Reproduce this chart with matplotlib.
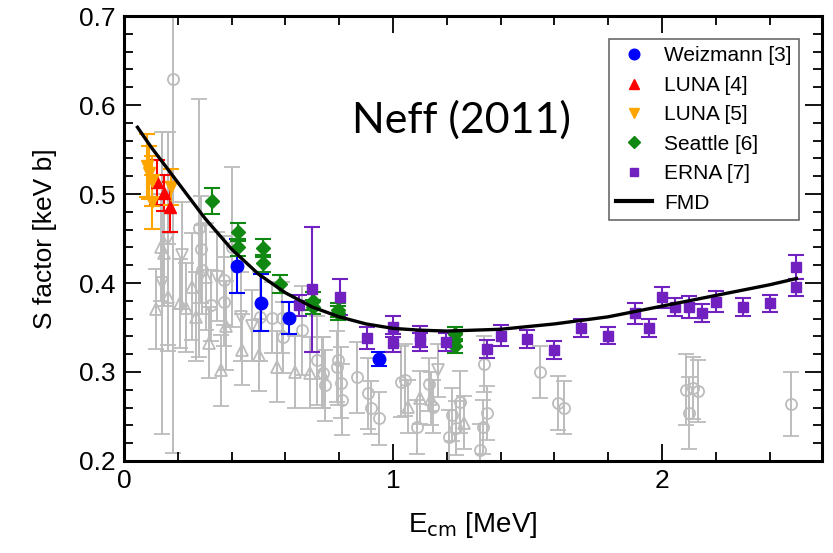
import matplotlib
matplotlib.use("Agg")
import matplotlib.pyplot as plt
from matplotlib.lines import Line2D
from matplotlib.ticker import MultipleLocator

# FMD curve
fmd_e = [0.05, 0.1, 0.2, 0.3, 0.4, 0.5, 0.6, 0.7, 0.8, 0.9, 1.0, 1.1, 1.2,
         1.3, 1.4, 1.6, 1.8, 2.0, 2.2, 2.4, 2.5]
fmd_s = [0.575, 0.553, 0.513, 0.473, 0.438, 0.410, 0.389, 0.373, 0.362, 0.354,
         0.349, 0.347, 0.346, 0.347, 0.348, 0.354, 0.362, 0.374, 0.386, 0.398, 0.405]

# Weizmann [3]
wz_e = [0.42, 0.51, 0.613, 0.948]
wz_s = [0.419, 0.378, 0.361, 0.315]
wz_err = [0.03, 0.032, 0.018, 0.008]

# LUNA [4]
l4_e = [0.123, 0.149, 0.171]
l4_s = [0.513, 0.501, 0.485]
l4_err = [0.025, 0.02, 0.028]

# LUNA [5]
l5_e = [0.085, 0.093, 0.105, 0.104, 0.174]
l5_s = [0.532, 0.524, 0.515, 0.491, 0.508]
l5_err = [0.035, 0.03, 0.028, 0.03, 0.02]

# Seattle [6]
se_e = [0.328, 0.425, 0.425, 0.518, 0.518, 0.58, 0.703, 0.703, 0.796, 0.796,
        1.23, 1.23, 1.23]
se_s = [0.492, 0.457, 0.440, 0.439, 0.422, 0.399, 0.380, 0.373, 0.370, 0.366,
        0.343, 0.336, 0.329]
se_err = [0.015, 0.01, 0.01, 0.01, 0.01, 0.01, 0.01, 0.008, 0.008, 0.008,
          0.008, 0.008, 0.008]

# ERNA [7]
er_e = [0.65, 0.698, 0.803, 0.903, 1.0, 1.0, 1.10, 1.10, 1.197, 1.35, 1.40,
        1.50, 1.60, 1.70, 1.80, 1.90, 1.95, 2.0, 2.05, 2.10, 2.15, 2.20, 2.30,
        2.40, 2.50, 2.50]
er_s = [0.375, 0.393, 0.384, 0.338, 0.351, 0.333, 0.340, 0.334, 0.334, 0.326,
        0.341, 0.337, 0.325, 0.349, 0.341, 0.366, 0.349, 0.384, 0.373, 0.373,
        0.366, 0.379, 0.373, 0.377, 0.418, 0.395]
er_err = [0.012, 0.07, 0.02, 0.012, 0.012, 0.01, 0.012, 0.01, 0.01, 0.01,
          0.012, 0.01, 0.01, 0.01, 0.01, 0.012, 0.01, 0.012, 0.01, 0.012,
          0.01, 0.012, 0.01, 0.01, 0.013, 0.01]

# older data (grey, open symbols)
gc_e = [0.182, 0.28, 0.286, 0.29, 0.323, 0.372, 0.372, 0.40, 0.505, 0.55,
        0.587, 0.59, 0.662, 0.717, 0.74, 0.747, 0.79, 0.795, 0.806, 0.81,
        0.866, 0.907, 0.92, 0.948, 1.03, 1.045, 1.09, 1.135, 1.15, 1.21,
        1.22, 1.235, 1.25, 1.34, 1.35, 1.335, 1.325, 1.546, 1.615, 1.635,
        2.09, 2.10, 2.115, 2.135, 2.48]
gc_s = [0.629, 0.462, 0.438, 0.415, 0.375, 0.403, 0.379, 0.44, 0.362, 0.361,
        0.361, 0.339, 0.347, 0.313, 0.299, 0.285, 0.306, 0.313, 0.288, 0.269,
        0.294, 0.276, 0.26, 0.248, 0.289, 0.291, 0.238, 0.286, 0.261, 0.227,
        0.252, 0.237, 0.266, 0.309, 0.254, 0.238, 0.212, 0.30, 0.265, 0.26,
        0.28, 0.254, 0.282, 0.279, 0.264]
gc_err = [0.42, 0.145, 0.06, 0.05, 0.04, 0.05, 0.05, 0.09, 0.05, 0.04,
          0.04, 0.04, 0.05, 0.05, 0.04, 0.04, 0.04, 0.05, 0.04, 0.04,
          0.04, 0.04, 0.03, 0.03, 0.04, 0.04, 0.03, 0.03, 0.03, 0.03,
          0.03, 0.03, 0.035, 0.031, 0.03, 0.03, 0.03, 0.029, 0.03, 0.03,
          0.04, 0.04, 0.035, 0.035, 0.036]

gu_e = [0.12, 0.137, 0.15, 0.163, 0.207, 0.23, 0.252, 0.267, 0.305, 0.315,
        0.36, 0.38, 0.44, 0.50, 0.57, 0.636, 0.69, 0.735, 1.056, 1.10, 1.14,
        1.265]
gu_s = [0.371, 0.44, 0.434, 0.384, 0.377, 0.372, 0.396, 0.362, 0.407, 0.333,
        0.302, 0.352, 0.325, 0.319, 0.306, 0.30, 0.299, 0.299, 0.261, 0.271,
        0.27, 0.243]
gu_err = [0.045, 0.06, 0.06, 0.06, 0.05, 0.05, 0.06, 0.05, 0.06, 0.04,
          0.04, 0.05, 0.04, 0.04, 0.04, 0.04, 0.04, 0.04, 0.03, 0.03, 0.03,
          0.03]

gd_e = [0.14, 0.165, 0.216, 0.346, 0.435, 0.476, 1.167]
gd_s = [0.40, 0.45, 0.431, 0.407, 0.362, 0.352, 0.302]
gd_err = [0.17, 0.12, 0.06, 0.05, 0.05, 0.04, 0.03]

plt.rcParams['font.family'] = ['Liberation Sans', 'DejaVu Sans']

fig = plt.figure(figsize=(8.33, 5.53), dpi=100)
ax = fig.add_axes([0.1489, 0.1664, 0.8379, 0.8046])

grey = '#bcbcbc'
for e, s, err, m in [(gc_e, gc_s, gc_err, 'o'), (gu_e, gu_s, gu_err, '^'),
                     (gd_e, gd_s, gd_err, 'v')]:
    ax.errorbar(e, s, yerr=err, fmt=m, mfc='none', mec=grey, ms=8, mew=1.3,
                ecolor=grey, elinewidth=1.4, capsize=5.5, capthick=1.4, zorder=1)

series = [
    (wz_e, wz_s, wz_err, 'o', '#0000ff', 9, 'Weizmann [3]'),
    (l4_e, l4_s, l4_err, '^', '#ff0000', 8.5, 'LUNA [4]'),
    (l5_e, l5_s, l5_err, 'v', '#ffa500', 8.5, 'LUNA [5]'),
    (se_e, se_s, se_err, 'D', '#118811', 7, 'Seattle [6]'),
    (er_e, er_s, er_err, 's', '#7021c0', 7, 'ERNA [7]'),
]
handles = []
for e, s, err, m, c, ms, lab in series:
    ax.errorbar(e, s, yerr=err, fmt=m, color=c, ms=ms, elinewidth=1.5,
                capsize=5.5, capthick=1.5, zorder=3)
    handles.append(Line2D([], [], ls='none', marker=m, color=c, ms=ms * 0.85,
                          label=lab))

ax.plot(fmd_e, fmd_s, color='black', lw=2.4, zorder=4)
handles.append(Line2D([], [], color='black', lw=3, label='FMD'))

ax.set_xlim(0, 2.595)
ax.set_ylim(0.2, 0.7)
ax.xaxis.set_major_locator(MultipleLocator(1))
ax.xaxis.set_minor_locator(MultipleLocator(0.2))
ax.yaxis.set_major_locator(MultipleLocator(0.1))
ax.yaxis.set_minor_locator(MultipleLocator(0.02))
ax.tick_params(which='both', direction='in', top=True, right=True,
               labelsize=19, width=1.3, pad=6)
ax.tick_params(which='major', length=12)
ax.tick_params(which='minor', length=6.5)
for sp in ax.spines.values():
    sp.set_linewidth(2.2)

ax.set_xlabel(r'E$_{\rm cm}$ [MeV]', fontsize=20, labelpad=12)
ax.set_ylabel('S factor [keV b]', fontsize=19, labelpad=16)

leg = ax.legend(handles=handles, loc='upper right', bbox_to_anchor=(0.967, 0.948),
                fontsize=15, frameon=True, fancybox=False, edgecolor='#444444',
                handlelength=1.7, handletextpad=0.6, labelspacing=0.5,
                borderpad=0.35, borderaxespad=0)
leg.get_frame().set_linewidth(1.2)

ax.text(0.327, 0.766, 'Neff (2011)', transform=ax.transAxes, fontsize=31,
        family=['Lato', 'DejaVu Sans'], va='center', ha='left')

fig.savefig('out.png', dpi=100)
